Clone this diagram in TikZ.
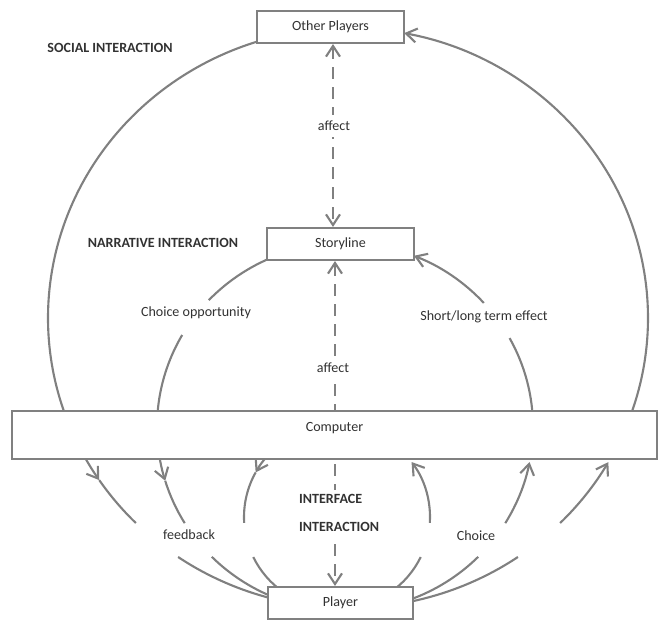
\documentclass[tikz,border=0pt]{standalone}
\usepackage{fontspec}
\setmainfont{Carlito}
\usetikzlibrary{arrows.meta,backgrounds}

\definecolor{linegray}{RGB}{128,128,128}
\definecolor{textgray}{RGB}{50,50,50}

% one piece of an elliptic ring: [opts]{centre}{x radius}{y radius}{from}{to}
\newcommand{\ringpart}[6][]{%
  \draw[ring,#1] (#2) ++(#5:#3 and #4) arc[start angle=#5, end angle=#6, x radius=#3, y radius=#4];}

\tikzset{
  box/.style={draw=linegray, line width=1.8pt, fill=white, text=textgray,
    minimum width=4.41cm, minimum height=0.96cm, font=\fontsize{12}{14}\selectfont},
  tag/.style={text=textgray, font=\fontsize{12}{14}\selectfont},
  head/.style={text=textgray, font=\fontsize{12}{14}\selectfont\bfseries},
  ring/.style={draw=linegray, line width=1.8pt},
  dashline/.style={draw=linegray, line width=1.8pt, dash pattern=on 0.36cm off 0.24cm, <->}
}

\begin{document}
\begin{tikzpicture}[x=0.03cm, y=-0.03cm, >={Straight Barb[length=3.2mm,width=4.2mm]}]
    \useasboundingbox (0,0) rectangle (662,620);

    % Boxes
    \node[box] (others) at (330.5,27) {Other Players};
    \node[box] (story) at (340.5,244) {Storyline};
    \node[box, minimum width=19.35cm, minimum height=1.44cm, text depth=0.46cm] (comp) at (334.5,435) {Computer};
    \node[box, minimum width=4.35cm] (player) at (340.5,603) {Player};

    % Labels
    \node[head] (social) at (110,48) {SOCIAL INTERACTION};
    \node[head] (narrative) at (163,243) {NARRATIVE INTERACTION};
    \node[head, fill=white, align=left, anchor=west] (interface) at (295,513) {INTERFACE\\[10pt]INTERACTION};
    \node[tag] (choiceopp) at (196,313) {Choice opportunity};
    \node[tag] (effect) at (484,317) {Short/long term effect};
    \node[tag, fill=white, inner sep=5pt] (affectA) at (334,126) {affect};
    \node[tag, fill=white, inner sep=5pt] (affectB) at (333,368) {affect};
    \node[tag] (feedback) at (189,535) {feedback};
    \node[tag] (choice) at (476,536) {Choice};

    % Ring centres
    \coordinate (socialc) at (348,318);
    \coordinate (narrc) at (345,427);
    \coordinate (interc) at (337,517);
    \coordinate (axisA) at (333,0);
    \coordinate (axisB) at (335,0);

    \begin{scope}[on background layer]
        % Dashed influence lines
        \draw[dashline] (axisA |- others.south) -- (axisA |- story.north);
        \draw[dashline] (axisB |- story.south) -- (axisB |- player.north);

        % Social ring
        \ringpart{socialc}{300}{290}{254}{157}
        \ringpart[->]{socialc}{300}{290}{157}{146}
        \ringpart{socialc}{300}{290}{146}{135}
        \ringpart{socialc}{300}{290}{124.5}{102}
        \ringpart{socialc}{300}{290}{78}{55.5}
        \ringpart[->]{socialc}{300}{290}{45}{29.8}
        \ringpart[->]{socialc}{300}{290}{22}{-79.2}

        % Narrative ring
        \ringpart{narrc}{188}{184}{250}{223.6}
        \ringpart{narrc}{188}{184}{210}{180}
        \ringpart[->]{narrc}{188}{184}{176}{163}
        \ringpart{narrc}{188}{184}{163}{148.5}
        \ringpart{narrc}{188}{184}{135.1}{110}
        \ringpart{narrc}{188}{184}{70}{44.9}
        \ringpart[->]{narrc}{188}{184}{31.5}{11}
        \ringpart{narrc}{188}{184}{0}{-28.9}
        \ringpart[->]{narrc}{188}{184}{-42.4}{-68.5}

        % Interface ring
        \ringpart[->]{interc}{93}{92}{227}{209}
        \ringpart{interc}{93}{92}{209}{176.3}
        \ringpart{interc}{93}{92}{154.2}{125}
        \ringpart{interc}{93}{92}{55}{25.8}
        \ringpart[->]{interc}{93}{92}{3.7}{-36.7}
    \end{scope}
\end{tikzpicture}
\end{document}
